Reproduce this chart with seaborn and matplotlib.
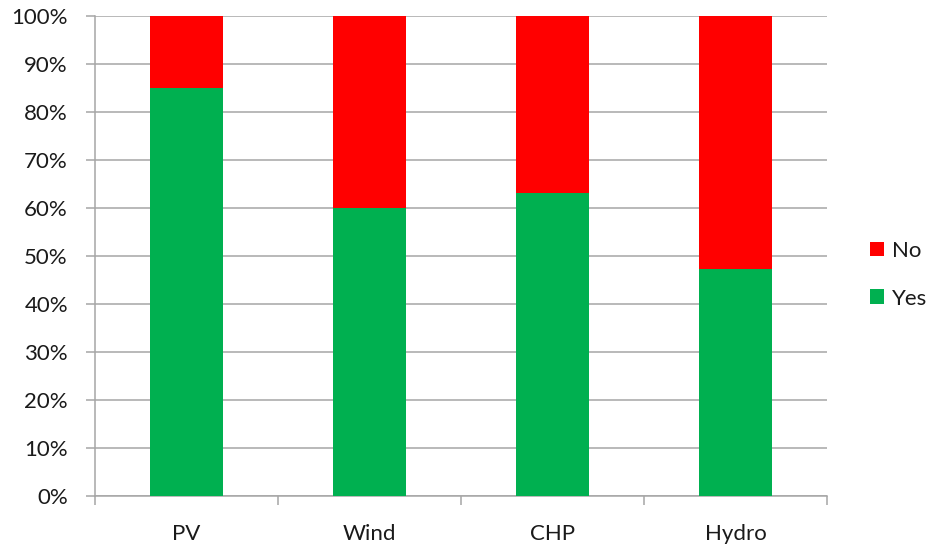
import matplotlib
matplotlib.use("Agg")
import matplotlib.pyplot as plt
from matplotlib.patches import Patch
from matplotlib.ticker import FixedLocator, PercentFormatter
import seaborn as sns
import pandas as pd

categories = ["PV", "Wind", "CHP", "Hydro"]
yes_share = [85.0, 60.0, 63.1, 47.2]
no_share = [15.0, 40.0, 36.9, 52.8]

green = "#00B050"
red = "#FF0000"
grid_grey = "#A6A6A6"

sns.set_theme(style="white")
plt.rcParams["font.family"] = ["Lato", "DejaVu Sans"]

df = pd.DataFrame({"category": categories, "Yes": yes_share, "No": no_share})
df["total"] = df["Yes"] + df["No"]

fig = plt.figure(figsize=(9.3, 5.46), dpi=100)
ax = fig.add_axes([95 / 930, 50 / 546, (827 - 95) / 930, (496 - 16) / 546])

# stacked columns: full-height "No" layer with the "Yes" part drawn over it
sns.barplot(data=df, x="category", y="total", color=red, width=0.4,
            saturation=1, ax=ax, zorder=2, linewidth=0)
sns.barplot(data=df, x="category", y="Yes", color=green, width=0.4,
            saturation=1, ax=ax, zorder=3, linewidth=0)

ax.set_xlim(-0.5, len(categories) - 0.5)
ax.set_ylim(0, 100)
ax.set_yticks(range(0, 101, 10))
ax.yaxis.set_major_formatter(PercentFormatter(decimals=0))
ax.grid(axis="y", color=grid_grey, linewidth=1.1, zorder=0)
ax.set_axisbelow(True)

ax.set_xlabel("")
ax.set_ylabel("")

for side in ("top", "right"):
    ax.spines[side].set_visible(False)
for side in ("left", "bottom"):
    ax.spines[side].set_color(grid_grey)
    ax.spines[side].set_linewidth(1.1)

text_color = "#1a1a1a"
fs = 16

ax.tick_params(axis="y", which="major", length=6.5, width=1.1, color=grid_grey,
               labelsize=fs, labelcolor=text_color, pad=13, left=True)
ax.tick_params(axis="x", which="major", length=0, labelsize=fs,
               labelcolor=text_color, pad=20)
ax.xaxis.set_minor_locator(FixedLocator([i - 0.5 for i in range(len(categories) + 1)]))
ax.tick_params(axis="x", which="minor", length=6.5, width=1.1, color=grid_grey,
               bottom=True)

handles = [Patch(facecolor=red, edgecolor="none", label="No"),
           Patch(facecolor=green, edgecolor="none", label="Yes")]
fig.legend(handles=handles, loc="center left", bbox_to_anchor=(870 / 930, 0.497),
           frameon=False, fontsize=fs, handlelength=0.63, handleheight=0.63,
           handletextpad=0.36, labelspacing=1.25, borderaxespad=0, borderpad=0,
           labelcolor=text_color)

fig.savefig("out.png", dpi=100)
